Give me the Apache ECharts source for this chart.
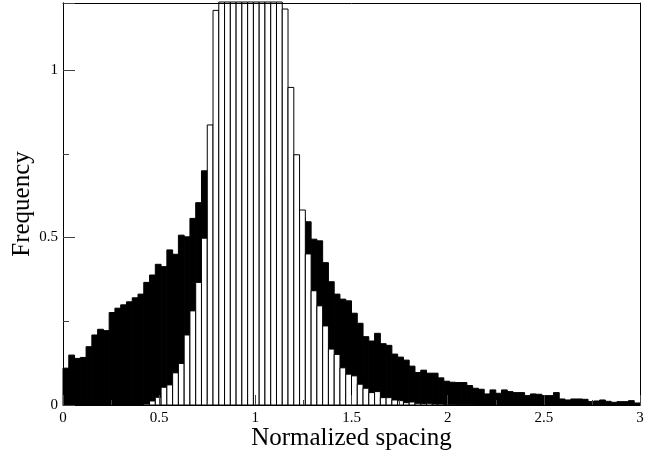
<!DOCTYPE html>
<html><head><meta charset="utf-8">
<script src="https://cdn.jsdelivr.net/npm/echarts@6/dist/echarts.min.js"></script>
<style>html,body{margin:0;padding:0;background:#fff}#c{width:646px;height:455px}</style>
</head><body><div id="c"></div>
<script>
// Histogram bins: 100 bins of width 0.03 starting at 0
const binStart = 0;
const binWidth = 0.03;

// Wide distribution (black filled histogram)
const wideValues = [
  0.110, 0.149, 0.139, 0.142, 0.174, 0.209, 0.226, 0.222, 0.276, 0.289,
  0.299, 0.308, 0.320, 0.331, 0.366, 0.388, 0.420, 0.413, 0.463, 0.450,
  0.507, 0.502, 0.557, 0.604, 0.699, 0.700, 0.720, 0.730, 0.740, 0.740,
  0.750, 0.740, 0.730, 0.720, 0.700, 0.690, 0.670, 0.650, 0.630, 0.600,
  0.580, 0.560, 0.547, 0.495, 0.490, 0.425, 0.368, 0.331, 0.316, 0.311,
  0.274, 0.244, 0.204, 0.191, 0.214, 0.183, 0.178, 0.152, 0.143, 0.134,
  0.116, 0.097, 0.104, 0.095, 0.095, 0.081, 0.071, 0.068, 0.067, 0.067,
  0.058, 0.050, 0.047, 0.033, 0.045, 0.035, 0.045, 0.040, 0.037, 0.037,
  0.028, 0.033, 0.032, 0.028, 0.028, 0.037, 0.018, 0.015, 0.018, 0.018,
  0.017, 0.010, 0.012, 0.015, 0.011, 0.008, 0.010, 0.010, 0.013, 0.006
];

// Narrow distribution (white outlined histogram, clipped at the top)
const narrowValues = [
  0, 0, 0, 0, 0, 0, 0, 0, 0, 0,
  0, 0, 0, 0, 0.003, 0.012, 0.023, 0.053, 0.060, 0.096,
  0.124, 0.209, 0.281, 0.366, 0.498, 0.836, 1.178, 1.45, 1.60, 1.75,
  1.85, 1.90, 1.90, 1.85, 1.80, 1.70, 1.55, 1.40, 1.182, 0.948,
  0.747, 0.582, 0.451, 0.341, 0.296, 0.236, 0.167, 0.151, 0.111, 0.092,
  0.087, 0.062, 0.050, 0.037, 0.040, 0.022, 0.022, 0.015, 0.013, 0.007,
  0.009, 0.005, 0.004, 0.005, 0.003, 0.003, 0.002, 0.002, 0.001, 0.001,
  0.001, 0, 0, 0, 0, 0, 0, 0, 0, 0,
  0, 0, 0, 0, 0, 0, 0, 0, 0, 0,
  0, 0, 0, 0, 0, 0, 0, 0, 0, 0
];

const xTickLabels = ['0', '0.5', '1', '1.5', '2', '2.5', '3'];
const yTickLabels = ['0', '0.5', '1'];
const xTitle = 'Normalized spacing';
const yTitle = 'Frequency';

function toBins(values) {
  return values.map((v, i) => [binStart + i * binWidth, binStart + (i + 1) * binWidth, v]);
}

function makeRender(fill, stroke, lw) {
  return function (params, api) {
    const x0 = api.value(0), x1 = api.value(1), v = api.value(2);
    if (!(v > 0)) return null;
    const p0 = api.coord([x0, 0]);
    const p1 = api.coord([x1, v]);
    const cs = params.coordSys;
    const shape = echarts.graphic.clipRectByRect(
      { x: p0[0], y: p1[1], width: p1[0] - p0[0], height: p0[1] - p1[1] },
      { x: cs.x, y: cs.y - 1, width: cs.width, height: cs.height + 1 }
    );
    if (!shape) return null;
    return { type: 'rect', shape: shape, style: { fill: fill, stroke: stroke, lineWidth: lw } };
  };
}

const font = 'Liberation Serif';
const chart = echarts.init(document.getElementById('c'), null, { renderer: 'canvas' });
chart.setOption({
  animation: false,
  backgroundColor: '#fff',
  grid: { left: 63, right: 6, top: 3, bottom: 50, containLabel: false, outerBoundsMode: 'none' },
  xAxis: [
    {
      type: 'value', min: 0, max: 3, interval: 0.5, position: 'bottom', z: 5,
      axisLine: { show: true, onZero: false, lineStyle: { color: '#000', width: 1 } },
      axisTick: { show: true, inside: true, length: 10, lineStyle: { color: '#444', width: 1 } },
      minorTick: { show: true, splitNumber: 2, length: 5, lineStyle: { color: '#444', width: 1 } },
      splitLine: { show: false },
      axisLabel: { fontFamily: font, fontSize: 15, color: '#000', margin: 6,
        formatter: (v, i) => xTickLabels[i] !== undefined ? xTickLabels[i] : '' },
      name: xTitle, nameLocation: 'middle', nameGap: 21, nameMoveOverlap: false,
      nameTextStyle: { fontFamily: font, fontSize: 25, color: '#000' }
    },
    {
      type: 'value', min: 0, max: 3, position: 'top', z: 5,
      axisLine: { show: true, onZero: false, lineStyle: { color: '#000', width: 1 } },
      axisTick: { show: false }, axisLabel: { show: false }, splitLine: { show: false }
    }
  ],
  yAxis: [
    {
      type: 'value', min: 0, max: 1.2, interval: 0.5, position: 'left', z: 5,
      axisLine: { show: true, onZero: false, lineStyle: { color: '#000', width: 1 } },
      axisTick: { show: true, inside: true, length: 12, lineStyle: { color: '#444', width: 1 } },
      splitLine: { show: false },
      axisLabel: { fontFamily: font, fontSize: 15, color: '#000', margin: 5,
        formatter: (v, i) => yTickLabels[i] !== undefined ? yTickLabels[i] : '' },
      name: yTitle, nameLocation: 'middle', nameGap: 28, nameMoveOverlap: false,
      nameTextStyle: { fontFamily: font, fontSize: 25, color: '#000' }
    },
    {
      type: 'value', min: 0, max: 1.2, interval: 0.25, position: 'left', z: 5,
      axisLine: { show: true, onZero: false, lineStyle: { color: '#000', width: 1 } },
      axisTick: { show: true, inside: true, length: 6, lineStyle: { color: '#444', width: 1 } },
      axisLabel: { show: false }, splitLine: { show: false }
    },
    {
      type: 'value', min: 0, max: 1.2, position: 'right', z: 5,
      axisLine: { show: true, onZero: false, lineStyle: { color: '#000', width: 1 } },
      axisTick: { show: false }, axisLabel: { show: false }, splitLine: { show: false }
    }
  ],
  series: [
    {
      type: 'custom', name: 'wide', xAxisIndex: 0, yAxisIndex: 0, z: 2,
      renderItem: makeRender('#000', '#000', 1),
      encode: { x: [0, 1], y: 2 },
      data: toBins(wideValues)
    },
    {
      type: 'custom', name: 'narrow', xAxisIndex: 0, yAxisIndex: 0, z: 3,
      renderItem: makeRender('#fff', '#000', 1),
      encode: { x: [0, 1], y: 2 },
      data: toBins(narrowValues)
    }
  ]
});
</script>
</body></html>
